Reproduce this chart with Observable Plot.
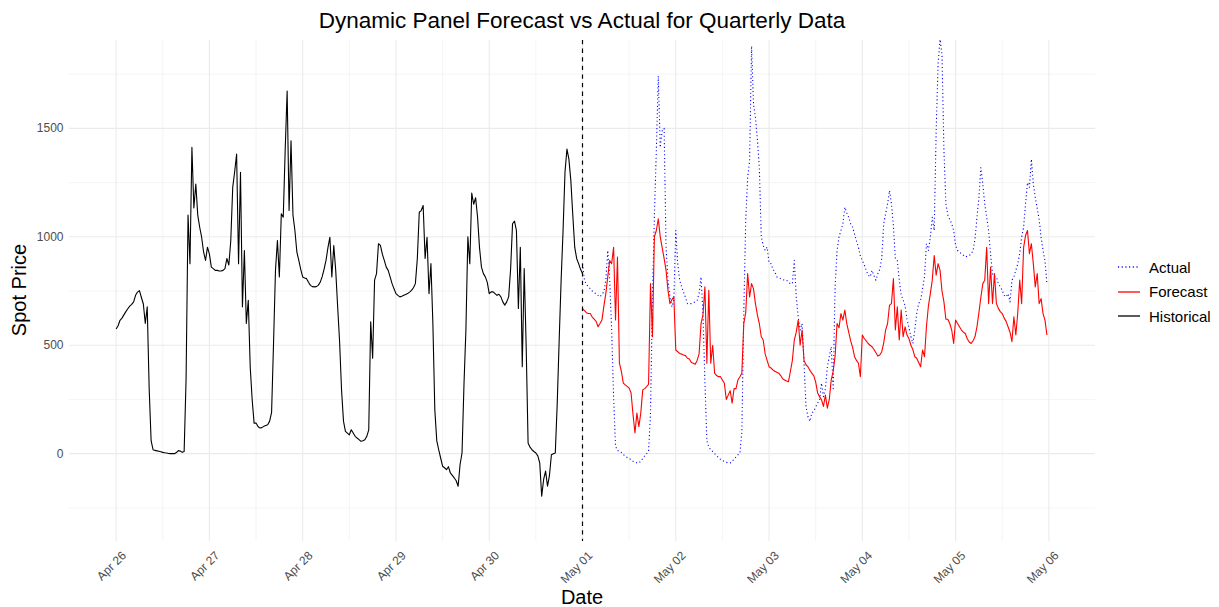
<!DOCTYPE html>
<html>
<head>
<meta charset="utf-8">
<script src="https://cdn.jsdelivr.net/npm/d3@7"></script>
<script src="https://cdn.jsdelivr.net/npm/@observablehq/plot@0.6"></script>
<style>
  body { margin: 0; background: #fff; font-family: "Liberation Sans", Arial, sans-serif; }
  #fig { position: relative; width: 1219px; height: 607px; overflow: hidden; }
  #fig > svg { position: absolute; left: 0; top: 0; }
  .title { position: absolute; left: 582px; top: 21px; transform: translate(-50%, -50%); font-size: 22.5px; color: #000; white-space: nowrap; }
  .xlab { position: absolute; left: 582px; top: 597px; transform: translate(-50%, -50%); font-size: 20px; color: #000; white-space: nowrap; }
  .ylab { position: absolute; left: 19px; top: 290px; transform: translate(-50%, -50%) rotate(-90deg); font-size: 20px; color: #000; white-space: nowrap; }
  .legend { position: absolute; left: 1117px; top: 255px; font-size: 15px; color: #000; }
  .legend .row { display: flex; align-items: center; height: 24.5px; }
  .legend .key { display: block; margin-right: 8px; }
</style>
</head>
<body>
<div id="fig"></div>
<script>
// Half-hourly spot prices, one row of 48 values per day.
// Historical: Apr 26 00:00 -> May 01 00:00; forecast and actual: May 01 00:00 -> May 05 23:30.
const historical = [
  575, 590, 615, 625, 640, 655, 668, 680, 688, 700, 730, 745, 752, 720, 690, 600, 677, 300, 60, 18, 15, 13, 11, 9, 6, 4, 3, 1, 0, 0, 0, 5, 14, 12, 6, 10, 347, 1100, 876, 1412, 1133, 1243, 1100, 1044, 998, 930, 891, 952,
  920, 860, 853, 845, 845, 842, 842, 845, 853, 900, 870, 983, 1228, 1300, 1381, 876, 1297, 677, 937, 600, 707, 400, 250, 141, 141, 125, 118, 120, 126, 130, 133, 150, 190, 508, 845, 983, 815, 1106, 1090, 1400, 1672, 1121, 1443, 1100, 1029, 930, 891, 850,
  815, 810, 807, 790, 776, 770, 769, 770, 776, 790, 815, 850, 891, 950, 998, 815, 960, 845, 677, 516, 294, 150, 103, 95, 87, 110, 95, 80, 72, 65, 57, 60, 64, 80, 110, 608, 440, 800, 830, 968, 960, 920, 891, 860, 845, 815, 784, 760,
  738, 730, 723, 726, 730, 734, 738, 745, 753, 765, 784, 900, 1113, 1121, 1144, 900, 998, 738, 876, 600, 202, 60, 18, -20, -58, -65, -74, -60, -89, -100, -112, -125, -150, -50, 3, 317, 570, 1000, 876, 1202, 1150, 1180, 1090, 950, 860, 830, 815, 790,
  738, 746, 746, 738, 730, 735, 723, 700, 685, 700, 723, 850, 1060, 1072, 1029, 669, 952, 401, 853, 500, 49, 30, 18, 10, 3, -10, -43, -196, -119, -80, -150, -100, -5, 0, 3, 233, 524, 800, 1029, 1300, 1404, 1358, 1259, 1100, 952, 900, 876, 850,
  830
];
const forecast = [
  669, 660, 650, 646, 646, 630, 620, 610, 585, 600, 616, 680, 738, 815, 891, 876, 952, 616, 907, 417, 380, 325, 317, 310, 302, 280, 180, 95, 187, 125, 187, 294, 300, 309, 320, 784, 539, 1000, 1029, 1083, 1000, 950, 900, 845, 753, 692, 710, 723,
  478, 470, 462, 459, 455, 452, 440, 436, 420, 417, 412, 430, 460, 600, 640, 769, 417, 753, 417, 500, 371, 360, 355, 355, 340, 325, 250, 270, 290, 233, 300, 300, 340, 355, 371, 600, 650, 830, 723, 784, 760, 692, 640, 600, 539, 524, 460, 430,
  401, 395, 386, 380, 375, 371, 360, 345, 340, 335, 332, 380, 430, 524, 560, 616, 500, 570, 430, 410, 401, 385, 371, 360, 330, 280, 263, 248, 218, 270, 210, 250, 340, 380, 450, 600, 580, 646, 616, 662, 600, 560, 520, 490, 447, 430, 417, 355,
  547, 531, 520, 508, 500, 493, 480, 465, 450, 455, 470, 510, 570, 600, 685, 692, 807, 570, 677, 524, 662, 539, 585, 547, 530, 500, 480, 447, 440, 420, 401, 478, 447, 585, 680, 738, 800, 914, 823, 876, 845, 750, 700, 620, 620, 600, 570, 508,
  616, 600, 585, 570, 560, 554, 530, 515, 508, 520, 540, 585, 650, 720, 784, 800, 952, 692, 860, 692, 830, 692, 670, 655, 646, 625, 610, 585, 560, 516, 631, 547, 650, 800, 692, 950, 1006, 1029, 922, 968, 876, 769, 830, 692, 715, 646, 616, 547
];
const actual = [
  876, 800, 780, 770, 761, 750, 742, 738, 730, 723, 735, 746, 800, 937, 800, 570, 263, 34, 15, 10, 5, -5, -10, -18, -22, -28, -35, -38, -42, -43, -35, -22, -10, 0, 11, 187, 723, 1100, 1400, 1741, 1412, 1488, 1500, 950, 800, 723, 677, 707,
  1029, 876, 800, 770, 745, 720, 692, 692, 692, 695, 700, 707, 740, 815, 646, 330, 60, 30, 18, 10, 0, -10, -18, -26, -32, -36, -40, -42, -43, -35, -25, -15, -5, 3, 100, 650, 1075, 1274, 1350, 1879, 1611, 1550, 1450, 1320, 1000, 960, 937, 952,
  880, 876, 850, 838, 815, 812, 807, 803, 800, 800, 790, 784, 784, 891, 723, 630, 570, 600, 417, 220, 171, 149, 187, 195, 215, 233, 250, 325, 263, 300, 400, 447, 493, 300, 769, 937, 1000, 1029, 1060, 1136, 1110, 1090, 1060, 1044, 1013, 980, 952, 910,
  891, 870, 845, 823, 815, 845, 820, 800, 830, 850, 900, 1060, 1106, 1152, 1213, 1152, 1050, 900, 891, 800, 730, 710, 680, 620, 580, 539, 508, 570, 646, 692, 707, 760, 815, 968, 937, 998, 1090, 1029, 1488, 1800, 1910, 1841, 1400, 1152, 1100, 1080, 1060, 1029,
  960, 937, 930, 922, 915, 907, 910, 914, 920, 937, 990, 1090, 1180, 1319, 1243, 1152, 1090, 1029, 920, 830, 815, 815, 784, 770, 753, 730, 723, 738, 700, 800, 815, 845, 876, 922, 998, 1044, 1152, 1250, 1228, 1358, 1243, 1182, 1130, 1080, 998, 937, 891, 784
];

const seriesNames = ["Actual", "Forecast", "Historical"];
const seriesColors = ["#0000ff", "#ff0000", "#000000"];
const seriesDash = ["1.1,2.6", null, null];

const dayLabels = ["Apr 26", "Apr 27", "Apr 28", "Apr 29", "Apr 30", "May 01", "May 02", "May 03", "May 04", "May 05", "May 06"];
const yMajor = [0, 500, 1000, 1500];
const yMinor = [-250, 250, 750, 1250, 1750];

const STEP = 1800e3, DAY = 24 * 3600e3;
const t0 = Date.UTC(2024, 3, 26);          // Apr 26 00:00
const split = Date.UTC(2024, 4, 1);        // May 01 00:00, start of forecast window

const toRows = (values, start) => values.map((v, i) => ({ date: new Date(start + i * STEP), value: v }));
const rowsBySeries = {
  Actual: toRows(actual, split),
  Forecast: toRows(forecast, split),
  Historical: toRows(historical, t0)
};

const days = dayLabels.map((_, i) => new Date(t0 + i * DAY));
const halfDays = dayLabels.slice(0, -1).map((_, i) => new Date(t0 + i * DAY + DAY / 2));

const gridStyle = { stroke: "#ebebeb", strokeOpacity: 1 };

const chart = Plot.plot({
  width: 1219,
  height: 607,
  marginTop: 40,
  marginRight: 124,
  marginBottom: 66,
  marginLeft: 69,
  style: { fontFamily: '"Liberation Sans", Arial, sans-serif', background: "transparent", overflow: "visible" },
  x: { type: "utc", domain: [new Date(t0 - DAY / 2), new Date(t0 + 10.5 * DAY)] },
  y: { domain: [-405, 1905] },
  marks: [
    Plot.gridX(halfDays, { ...gridStyle, strokeWidth: 0.55 }),
    Plot.gridY(yMinor, { ...gridStyle, strokeWidth: 0.55 }),
    Plot.gridX(days, { ...gridStyle, strokeWidth: 1.1 }),
    Plot.gridY(yMajor, { ...gridStyle, strokeWidth: 1.1 }),
    Plot.axisX(days, {
      tickSize: 0, tickPadding: 12, dx: 8, tickRotate: -45, fontSize: 12, fill: "#4d4d4d", label: null,
      tickFormat: (d, i) => dayLabels[i]
    }),
    Plot.axisY(yMajor, { tickSize: 0, tickPadding: 6, fontSize: 12, fill: "#4d4d4d", label: null, tickFormat: d => String(d) }),
    ...seriesNames.map((name, k) => Plot.line(rowsBySeries[name], {
      x: "date", y: "value",
      stroke: seriesColors[k], strokeWidth: 1.1,
      strokeDasharray: seriesDash[k] ?? undefined,
      strokeLinecap: "butt",
      strokeLinejoin: "round",
      clip: true
    })),
    Plot.ruleX([new Date(split)], { stroke: "#000", strokeWidth: 1.2, strokeDasharray: "4.3,4.3" })
  ]
});

const fig = document.getElementById("fig");
fig.appendChild(chart);

const addText = (cls, text) => {
  const el = document.createElement("div");
  el.className = cls;
  el.textContent = text;
  fig.appendChild(el);
};
addText("title", "Dynamic Panel Forecast vs Actual for Quarterly Data");
addText("xlab", "Date");
addText("ylab", "Spot Price");

const legend = document.createElement("div");
legend.className = "legend";
seriesNames.forEach((name, k) => {
  const row = document.createElement("div");
  row.className = "row";
  const dash = seriesDash[k] ? `stroke-dasharray="${seriesDash[k]}"` : "";
  row.innerHTML = `<svg class="key" width="24" height="10"><line x1="1" x2="23" y1="5" y2="5" stroke="${seriesColors[k]}" stroke-width="1.3" ${dash}/></svg><span>${name}</span>`;
  legend.appendChild(row);
});
fig.appendChild(legend);
</script>
</body>
</html>
